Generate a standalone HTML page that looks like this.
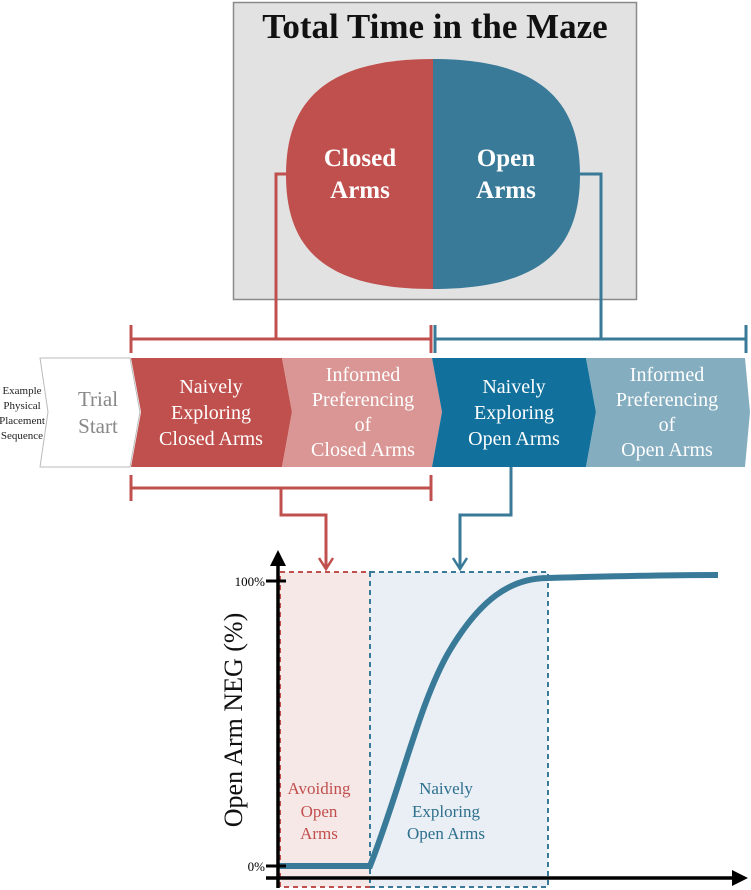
<!DOCTYPE html>
<html><head><meta charset="utf-8"><style>
html,body{margin:0;padding:0;background:#fff;}
svg{display:block;font-family:"Liberation Serif",serif;}
</style></head><body>
<svg width="751" height="890" viewBox="0 0 751 890" xmlns="http://www.w3.org/2000/svg">
<rect x="233.5" y="2.5" width="403" height="297" fill="#e2e2e2" stroke="#8a8a8a" stroke-width="1.5"/>
<text x="435" y="38" text-anchor="middle" font-size="35" font-weight="bold" fill="#111">Total Time in the Maze</text>
<clipPath id="bl"><path d="M433,59 C545,59 580,105 580,175 C580,250 540,289 433,289 C326,289 286,250 286,175 C286,105 321,59 433,59Z"/></clipPath>
<g clip-path="url(#bl)"><rect x="280" y="50" width="153" height="250" fill="#c0504d"/><rect x="433" y="50" width="152" height="250" fill="#3a7a99"/></g>
<g fill="#fff" font-size="25" font-weight="bold" text-anchor="middle">
<text x="360" y="166">Closed</text><text x="360" y="198">Arms</text>
<text x="506" y="166">Open</text><text x="506" y="198">Arms</text></g>
<g fill="none" stroke-width="3">
<path d="M286,174 H276 V339" stroke="#c0504d"/>
<path d="M580,174 H601 V339" stroke="#3a7a99"/>
<path d="M131,339 H431 M131,325 V353 M431,325 V353" stroke="#c0504d"/>
<path d="M435,339 H746 M435,325 V353 M746,325 V353" stroke="#3a7a99"/>
<path d="M131,488 H431 M131,475 V501 M431,475 V501" stroke="#c0504d"/>
<path d="M281,488 V515 H326 V568" stroke="#c0504d"/>
<path d="M511,467 V515 H460 V568" stroke="#3a7a99"/>
<path d="M319,558 L326,569 L333,558" stroke="#c0504d" stroke-width="2.5"/>
<path d="M453,558 L460,569 L467,558" stroke="#3a7a99" stroke-width="2.5"/>
</g>
<path d="M40,358 H130 L140,412 L130,467 H40 L48,412Z" fill="#fff" stroke="#bbb" stroke-width="1"/>
<path d="M131,358 H282 L292,412 L282,467 H131 L141,412Z" fill="#c0504d"/>
<path d="M282,358 H432 L442,412 L432,467 H282 L292,412Z" fill="#d99694"/>
<path d="M432,358 H586 L596,412 L586,467 H432 L442,412Z" fill="#12719c"/>
<path d="M586,358 H745 L750,412 L745,467 H586 L596,412Z" fill="#85adc0"/>
<g font-size="11" text-anchor="middle" fill="#222"><text x="22" y="394">Example</text><text x="22" y="409">Physical</text><text x="22" y="424">Placement</text><text x="22" y="439">Sequence</text></g>
<g font-size="21" text-anchor="middle" fill="#888"><text x="98" y="406">Trial</text><text x="98" y="433">Start</text></g>
<g font-size="20" text-anchor="middle" fill="#fff">
<text x="211" y="393">Naively</text><text x="211" y="419">Exploring</text><text x="211" y="445">Closed Arms</text>
<text x="363" y="381">Informed</text><text x="363" y="406">Preferencing</text><text x="363" y="431">of</text><text x="363" y="456">Closed Arms</text>
<text x="514" y="393">Naively</text><text x="514" y="419">Exploring</text><text x="514" y="445">Open Arms</text>
<text x="667" y="381">Informed</text><text x="667" y="406">Preferencing</text><text x="667" y="431">of</text><text x="667" y="456">Open Arms</text>
</g>
<rect x="280" y="572" width="90" height="315" fill="#f7e8e8" stroke="#c0504d" stroke-width="2" stroke-dasharray="5,4"/>
<rect x="370" y="572" width="178" height="315" fill="#e9eff4" stroke="#3a7a99" stroke-width="2" stroke-dasharray="5,4"/>
<path d="M278,866 H370 C400,790 420,700 450,650 C480,600 510,578 548,578 C620,576 680,575 718,575" fill="none" stroke="#3a7a99" stroke-width="6"/>
<g stroke="#000" stroke-width="3.5" fill="none">
<path d="M278,888 V560"/><path d="M266,878 H735"/>
<path d="M266,581 H286 M266,866 H286" stroke-width="3"/>
</g>
<path d="M278,550 L270,566 L286,566Z" fill="#000"/>
<path d="M748,878 L732,870 L732,886Z" fill="#000"/>
<text x="265" y="586" font-size="13" text-anchor="end">100%</text>
<text x="265" y="871" font-size="13" text-anchor="end">0%</text>
<text transform="translate(242,720) rotate(-90)" font-size="26" text-anchor="middle" fill="#111">Open Arm NEG (%)</text>
<g font-size="17" text-anchor="middle" fill="#c0504d"><text x="319" y="794">Avoiding</text><text x="319" y="817">Open</text><text x="319" y="839">Arms</text></g>
<g font-size="17" text-anchor="middle" fill="#2e6f8e"><text x="446" y="794">Naively</text><text x="446" y="817">Exploring</text><text x="446" y="839">Open Arms</text></g>
</svg>
</body></html>
